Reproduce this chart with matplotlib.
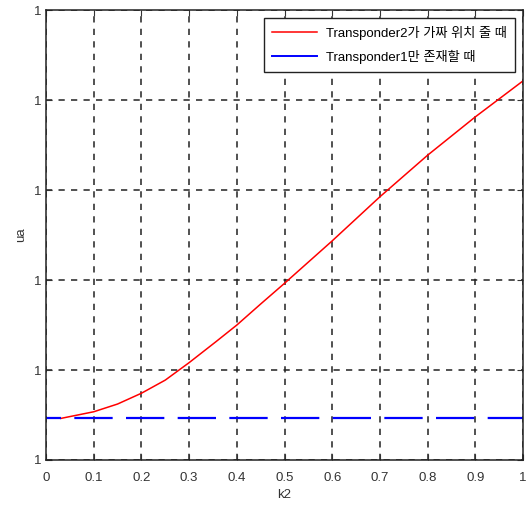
import matplotlib
matplotlib.use("Agg")
import matplotlib.pyplot as plt
from matplotlib.lines import Line2D
from matplotlib.ticker import FormatStrFormatter, MultipleLocator

plt.rcParams['font.family'] = ['Liberation Sans', 'Noto Sans CJK KR', 'DejaVu Sans']
plt.rcParams['lines.scale_dashes'] = False

# data
k2 = [0.031, 0.1, 0.15, 0.2, 0.25, 0.3, 0.356, 0.4, 0.45, 0.5, 0.6, 0.7, 0.8, 0.9, 1.0]
ua_fake = [1.0231, 1.0268, 1.0311, 1.0371, 1.0444, 1.0541, 1.0657, 1.0750,
           1.0867, 1.0982, 1.1218, 1.1463, 1.1694, 1.1907, 1.2107]
k2_single = [0.0, 1.0]
ua_single = [1.0231, 1.0231]
labels = ['Transponder2가 가짜 위치 줄 때', 'Transponder1만 존재할 때']

fig = plt.figure(figsize=(5.29, 5.09), dpi=100)
ax = fig.add_axes([0.087, 0.0963, 0.9017, 0.8837])

ax.plot(k2, ua_fake, color='red', lw=1.1)
ax.plot(k2_single, ua_single, color='blue', lw=1.6,
        linestyle=(16.8, (27.6, 9.6)))

ax.set_xlim(0, 1)
ax.set_ylim(1.0, 1.25)
ax.xaxis.set_major_locator(MultipleLocator(0.1))
ax.yaxis.set_major_locator(MultipleLocator(0.05))
ax.yaxis.set_major_formatter(FormatStrFormatter('%.0f'))
ax.xaxis.set_major_formatter(FormatStrFormatter('%g'))
ax.tick_params(direction='in', top=True, right=True, labelsize=9.5,
               colors='#333333', length=4)
ax.tick_params(axis='x', pad=9)
ax.grid(True, color='#222222', lw=1.1, linestyle=(0, (4.5, 4.5)))
for s in ax.spines.values():
    s.set_linewidth(1.1)
    s.set_color('#222222')

ax.set_xlabel('k2', fontsize=9.5, color='#333333', labelpad=3)
ax.set_ylabel('ua', fontsize=9.5, color='#333333', labelpad=5)

handles = [Line2D([], [], color='red', lw=1.1), Line2D([], [], color='blue', lw=1.4)]
leg = ax.legend(handles, labels, loc='upper right', fontsize=9.5, fancybox=False,
                edgecolor='#222222', framealpha=1, borderaxespad=0.6,
                handlelength=3.4, borderpad=0.6, labelspacing=0.75, handletextpad=0.7)
leg.get_frame().set_linewidth(1.0)

fig.savefig('out.png', dpi=100)
